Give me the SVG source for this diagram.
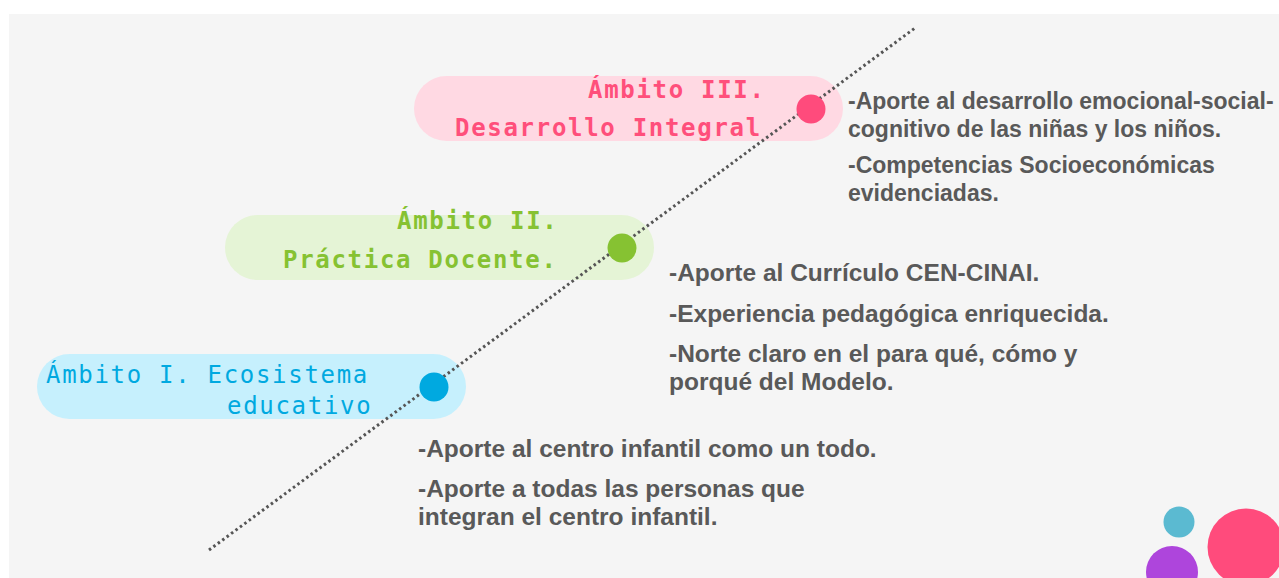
<svg xmlns="http://www.w3.org/2000/svg" width="1279" height="578" viewBox="0 0 1279 578">
<style>
.lbl{font-family:"DejaVu Sans Mono","Liberation Mono",monospace;font-size:24px;letter-spacing:1.7px}
.txt{font-family:"Liberation Sans",Arial,sans-serif;font-size:24.5px;font-weight:bold;fill:#595959}
.txt3{font-size:23px}
.conn{stroke:#555;stroke-width:3;stroke-dasharray:2.5 3;fill:none}
</style>
<rect x="0" y="0" width="1279" height="578" fill="#ffffff"/>
<rect x="9" y="14" width="1270" height="564" fill="#f5f5f5"/>
<g id="deco">
<circle cx="1179" cy="522" r="15.5" fill="#5bbad1"/>
<circle cx="1172" cy="572" r="26" fill="#ae45dc"/>
<circle cx="1246" cy="547" r="38.5" fill="#ff4b7c"/>
</g>
<g id="pill3"><rect x="414" y="76" width="429" height="65" rx="32.5" fill="#ffd9e3"/></g>
<g id="pill2"><rect x="225" y="215" width="429" height="65" rx="32.5" fill="#e5f4d6"/></g>
<g id="pill1"><rect x="37" y="354" width="429" height="65" rx="32.5" fill="#c6f0fd"/></g>
<g id="connectors"><line class="conn" x1="209" y1="550" x2="915" y2="28"/></g>
<g id="node3">
<text class="lbl" x="588" y="98" fill="#ff4f7b" font-weight="bold">Ámbito III.</text>
<text class="lbl" x="455" y="136" fill="#ff4f7b" font-weight="bold">Desarrollo Integral</text>
<circle cx="811" cy="109" r="14.5" fill="#ff4b7c"/>
<text class="txt txt3" x="848" y="109">-Aporte al desarrollo emocional-social-</text>
<text class="txt txt3" x="848" y="137">cognitivo de las niñas y los niños.</text>
<text class="txt txt3" x="848" y="173">-Competencias Socioeconómicas</text>
<text class="txt txt3" x="848" y="201">evidenciadas.</text>
</g>
<g id="node2">
<text class="lbl" x="397" y="229" fill="#86c232" font-weight="bold">Ámbito II.</text>
<text class="lbl" x="283" y="268" fill="#86c232" font-weight="bold">Práctica Docente.</text>
<circle cx="622" cy="248" r="14.5" fill="#86c232"/>
<text class="txt" x="669" y="281">-Aporte al Currículo CEN-CINAI.</text>
<text class="txt" x="669" y="322">-Experiencia pedagógica enriquecida.</text>
<text class="txt" x="669" y="362">-Norte claro en el para qué, cómo y</text>
<text class="txt" x="669" y="390">porqué del Modelo.</text>
</g>
<g id="node1">
<text class="lbl" x="46" y="383" fill="#00a9e0">Ámbito I. Ecosistema</text>
<text class="lbl" x="227" y="414" fill="#00a9e0">educativo</text>
<circle cx="434" cy="387" r="14.5" fill="#00a9e0"/>
<text class="txt" x="418" y="457">-Aporte al centro infantil como un todo.</text>
<text class="txt" x="418" y="497">-Aporte a todas las personas que</text>
<text class="txt" x="418" y="525">integran el centro infantil.</text>
</g>
</svg>
